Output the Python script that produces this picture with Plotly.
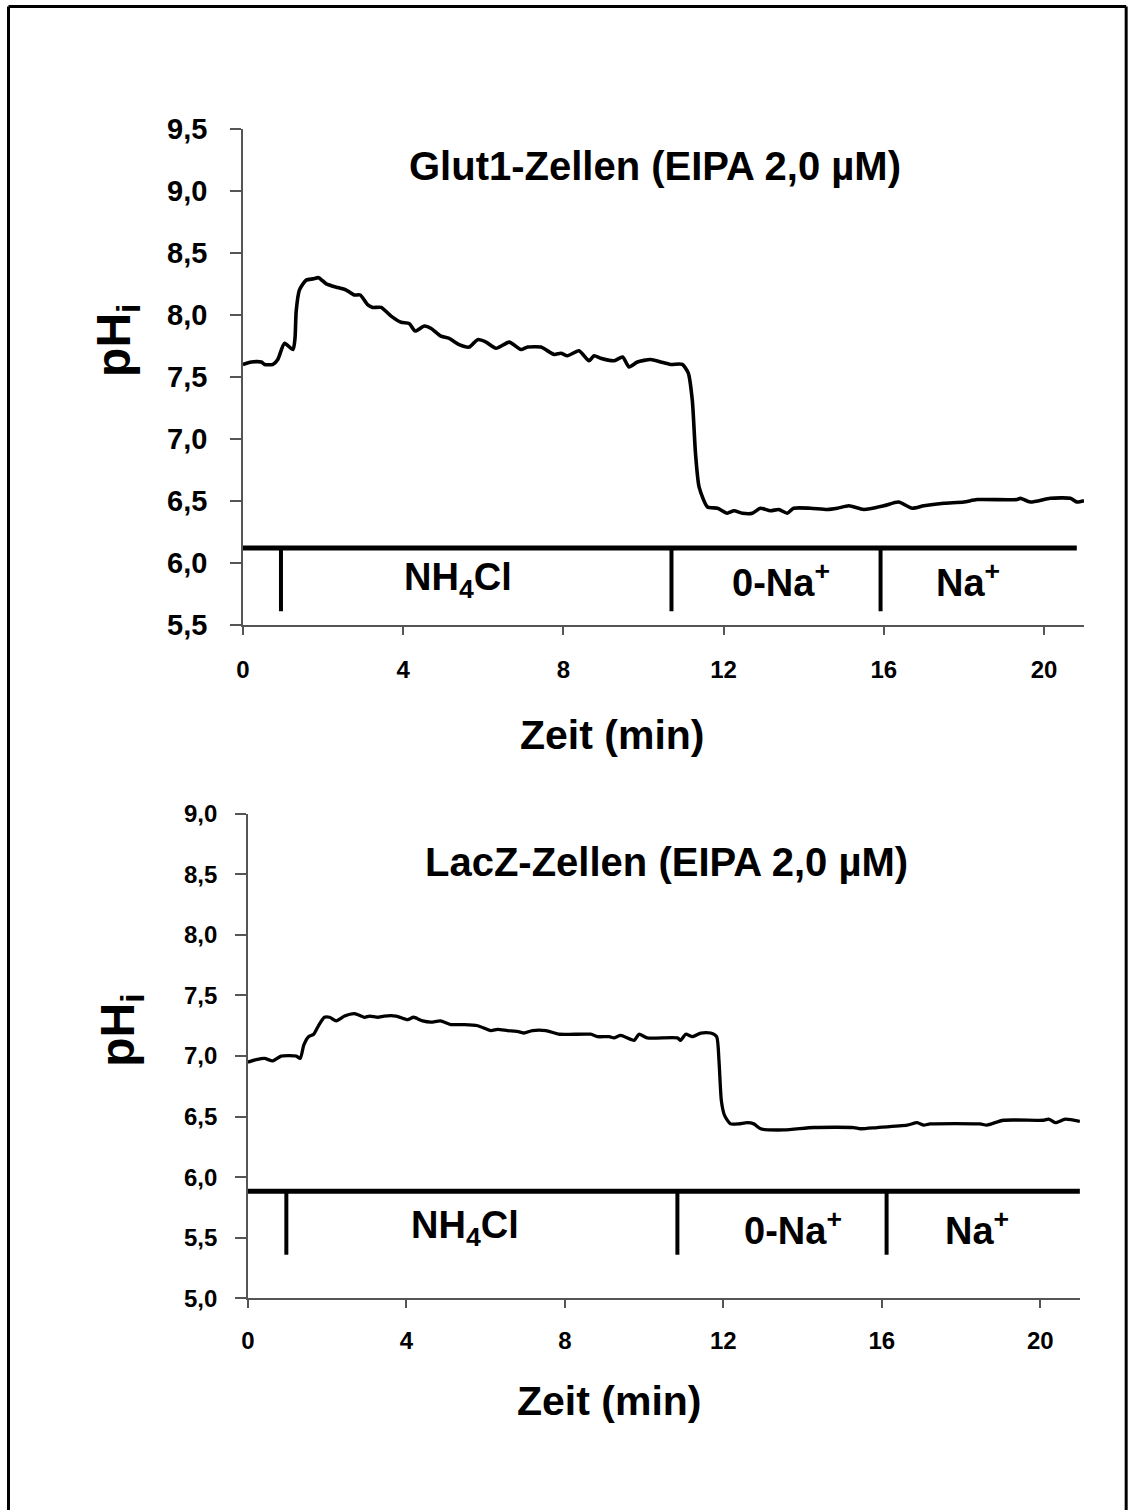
import plotly.graph_objects as go

# ---------------- data ----------------
glut_t = [0, 0.21, 0.46, 0.54, 0.75, 0.87, 1.04, 1.25, 1.30, 1.33, 1.41, 1.58, 1.75, 1.89, 2.08, 2.37,
          2.58, 2.78, 2.93, 3.12, 3.24, 3.45, 3.70, 3.95, 4.15, 4.30, 4.53, 4.70, 4.93, 5.15, 5.40, 5.65,
          5.86, 6.07, 6.32, 6.65, 6.94, 7.11, 7.44, 7.77, 7.94, 8.10, 8.39, 8.64, 8.77, 8.93, 9.27, 9.48,
          9.64, 9.85, 10.18, 10.43, 10.68, 10.97, 11.12, 11.22, 11.30, 11.39, 11.60, 11.85, 12.09, 12.26,
          12.47, 12.72, 12.92, 13.17, 13.38, 13.59, 13.75, 14.17, 14.59, 14.84, 15.13, 15.50, 16.00, 16.37,
          16.71, 17.00, 17.50, 18.00, 18.33, 19.33, 19.41, 19.66, 20.16, 20.66, 20.82, 21.0]
glut_ph = [7.60, 7.62, 7.62, 7.60, 7.60, 7.64, 7.77, 7.72, 7.81, 8.03, 8.20, 8.28, 8.29, 8.30, 8.25, 8.22,
           8.20, 8.16, 8.16, 8.08, 8.06, 8.06, 7.99, 7.94, 7.93, 7.87, 7.91, 7.89, 7.83, 7.81, 7.76, 7.74,
           7.80, 7.78, 7.73, 7.78, 7.72, 7.74, 7.74, 7.68, 7.69, 7.67, 7.71, 7.63, 7.67, 7.65, 7.63, 7.66,
           7.58, 7.62, 7.64, 7.62, 7.60, 7.60, 7.53, 7.31, 6.88, 6.61, 6.45, 6.44, 6.40, 6.42,
           6.40, 6.40, 6.44, 6.42, 6.43, 6.40, 6.44, 6.44, 6.43, 6.44, 6.46, 6.43, 6.46, 6.49,
           6.44, 6.46, 6.48, 6.49, 6.51, 6.51, 6.52, 6.49, 6.52, 6.52, 6.49, 6.50]

lacz_t = [0, 0.21, 0.42, 0.63, 0.84, 1.22, 1.32, 1.41, 1.53, 1.66, 1.78, 1.93, 2.06, 2.23, 2.44, 2.69,
          2.94, 3.07, 3.28, 3.44, 3.74, 4.03, 4.18, 4.41, 4.62, 4.86, 5.12, 5.46, 5.80, 6.13, 6.30, 6.55,
          6.85, 6.97, 7.18, 7.52, 7.86, 8.65, 8.82, 9.12, 9.24, 9.41, 9.75, 9.87, 10.08, 10.84, 10.92,
          11.05, 11.22, 11.43, 11.68, 11.83, 11.89, 11.95, 12.03, 12.18, 12.39, 12.60, 12.77, 12.94,
          13.53, 14.28, 15.29, 15.46, 15.88, 16.64, 16.89, 17.06, 17.22, 18.48, 18.65, 19.07, 20.08,
          20.21, 20.38, 20.63, 21.0]
lacz_ph = [6.95, 6.97, 6.98, 6.96, 7.00, 7.00, 6.98, 7.09, 7.16, 7.18, 7.25, 7.32, 7.32, 7.29, 7.33, 7.35,
           7.32, 7.33, 7.32, 7.33, 7.33, 7.30, 7.32, 7.29, 7.28, 7.29, 7.26, 7.26, 7.25, 7.21, 7.22, 7.21,
           7.20, 7.19, 7.21, 7.21, 7.18, 7.18, 7.16, 7.16, 7.15, 7.17, 7.13, 7.18, 7.15, 7.15, 7.13,
           7.18, 7.16, 7.19, 7.19, 7.16, 6.96, 6.63, 6.51, 6.44, 6.44, 6.45, 6.44, 6.40,
           6.39, 6.41, 6.41, 6.40, 6.41, 6.43, 6.45, 6.43, 6.44, 6.44, 6.43, 6.47, 6.47,
           6.48, 6.45, 6.48, 6.46]

x_ticks = [0, 4, 8, 12, 16, 20]
x_ticklabels = ["0", "4", "8", "12", "16", "20"]
top_yticks = [5.5, 6.0, 6.5, 7.0, 7.5, 8.0, 8.5, 9.0, 9.5]
top_yticklabels = ["5,5", "6,0", "6,5", "7,0", "7,5", "8,0", "8,5", "9,0", "9,5"]
bot_yticks = [5.0, 5.5, 6.0, 6.5, 7.0, 7.5, 8.0, 8.5, 9.0]
bot_yticklabels = ["5,0", "5,5", "6,0", "6,5", "7,0", "7,5", "8,0", "8,5", "9,0"]

# perfusion protocol (event times in min, bar level, label text)
top_events = [0.95, 10.70, 15.92]
top_bar = dict(start=0.0, end=20.82, level=6.12, drop=5.61)
bot_events = [0.97, 10.84, 16.12]
bot_bar = dict(start=0.0, end=21.0, level=5.885, drop=5.36)
phase_labels = ["NH<sub>4</sub>Cl", "0-Na<sup>+</sup>", "Na<sup>+</sup>"]
top_label_x = [5.37, 13.43, 18.11]
top_label_y = 5.86
bot_label_x = [5.49, 13.75, 18.40]
bot_label_y = 5.58

titles = ["Glut1-Zellen (EIPA 2,0 µM)", "LacZ-Zellen (EIPA 2,0 µM)"]

# ---------------- figure ----------------
W, H = 1133, 1510
FONT = "Liberation Sans, Arial, sans-serif"

# pixel positions measured on the reference, compensated for the observed render mapping
def px_x(p):
    return ((p - 5.5) / 0.995) / W

def px_y(p):
    return 1 - ((p - 15.4) / 0.979) / H

fig = go.Figure()
fig.add_trace(go.Scatter(x=glut_t, y=glut_ph, mode="lines", xaxis="x", yaxis="y",
                         line=dict(color="black", width=3.6, shape="spline", smoothing=0.6),
                         showlegend=False, hoverinfo="skip"))
fig.add_trace(go.Scatter(x=lacz_t, y=lacz_ph, mode="lines", xaxis="x2", yaxis="y2",
                         line=dict(color="black", width=3.3, shape="spline", smoothing=0.6),
                         showlegend=False, hoverinfo="skip"))

axis_common = dict(showgrid=False, zeroline=False, showline=True, linecolor="#555555",
                   linewidth=1.5, ticks="outside", tickcolor="#555555", tickwidth=1.5,
                   mirror=False, fixedrange=True)

fig.update_layout(
    width=W, height=H, margin=dict(l=0, r=0, t=0, b=0),
    paper_bgcolor="white", plot_bgcolor="white",
    font=dict(family=FONT, color="black"),
    xaxis=dict(domain=[px_x(241.7), px_x(1083.8)], range=[0, 21], anchor="y",
               tickvals=x_ticks, ticktext=x_ticklabels, ticklen=8, ticklabelstandoff=15,
               tickfont=dict(size=24, family=FONT, weight="bold"), **axis_common),
    yaxis=dict(domain=[px_y(624.3), px_y(128.3)], range=[5.5, 9.5], anchor="x",
               tickvals=top_yticks, ticktext=top_yticklabels, ticklen=11, ticklabelstandoff=17,
               tickfont=dict(size=29, family=FONT, weight="bold"), **axis_common),
    xaxis2=dict(domain=[px_x(246.7), px_x(1079.7)], range=[0, 21], anchor="y2",
                tickvals=x_ticks, ticktext=x_ticklabels, ticklen=8, ticklabelstandoff=12,
                tickfont=dict(size=24, family=FONT, weight="bold"), **axis_common),
    yaxis2=dict(domain=[px_y(1298), px_y(813.3)], range=[5.0, 9.0], anchor="x2",
                tickvals=bot_yticks, ticktext=bot_yticklabels, ticklen=11, ticklabelstandoff=13,
                tickfont=dict(size=24, family=FONT, weight="bold"), **axis_common),
)

shapes = []
# outer frame (left, top, right edges; bottom lies below the visible page)
fx0, fx1, fy1 = px_x(7), px_x(1126), px_y(6)
for (a, b, c, d) in [(fx0, -0.05, fx0, fy1), (fx0, fy1, fx1, fy1), (fx1, fy1, fx1, -0.05)]:
    shapes.append(dict(type="line", xref="paper", yref="paper", x0=a, y0=b, x1=c, y1=d,
                       line=dict(color="black", width=3)))

for (xr, yr, bar, events) in [("x", "y", top_bar, top_events), ("x2", "y2", bot_bar, bot_events)]:
    shapes.append(dict(type="line", xref=xr, yref=yr, x0=bar["start"], x1=bar["end"],
                       y0=bar["level"], y1=bar["level"], line=dict(color="black", width=5)))
    for e in events:
        shapes.append(dict(type="line", xref=xr, yref=yr, x0=e, x1=e,
                           y0=bar["level"], y1=bar["drop"], line=dict(color="black", width=4)))
fig.update_layout(shapes=shapes)

ann = []
for lbl, xv in zip(phase_labels, top_label_x):
    ann.append(dict(x=xv, y=top_label_y, xref="x", yref="y", text=f"<b>{lbl}</b>", showarrow=False,
                    xanchor="center", yanchor="middle", font=dict(size=38, family=FONT)))
for lbl, xv in zip(phase_labels, bot_label_x):
    ann.append(dict(x=xv, y=bot_label_y, xref="x2", yref="y2", text=f"<b>{lbl}</b>", showarrow=False,
                    xanchor="center", yanchor="middle", font=dict(size=38, family=FONT)))
ann.append(dict(x=10.3, y=9.2, xref="x", yref="y", text=f"<b>{titles[0]}</b>", showarrow=False,
                xanchor="center", yanchor="middle", font=dict(size=40, family=FONT)))
ann.append(dict(x=10.57, y=8.60, xref="x2", yref="y2", text=f"<b>{titles[1]}</b>", showarrow=False,
                xanchor="center", yanchor="middle", font=dict(size=40, family=FONT)))
# axis titles
for (xc, yc) in [(611, 735), (608, 1401)]:
    ann.append(dict(x=px_x(xc), y=px_y(yc), xref="paper", yref="paper", text="<b>Zeit (min)</b>",
                    showarrow=False, xanchor="center", yanchor="middle", font=dict(size=41, family=FONT)))
for (xc, yc) in [(115, 340), (120, 1030)]:
    ann.append(dict(x=px_x(xc), y=px_y(yc), xref="paper", yref="paper", text="<b>pH<sub>i</sub></b>",
                    showarrow=False, xanchor="center", yanchor="middle", textangle=-90,
                    font=dict(size=48, family=FONT)))
fig.update_layout(annotations=ann)

fig.write_html("out.html", config={"displayModeBar": False},
               post_script="document.body.style.margin='0';document.body.style.overflow='hidden';")
